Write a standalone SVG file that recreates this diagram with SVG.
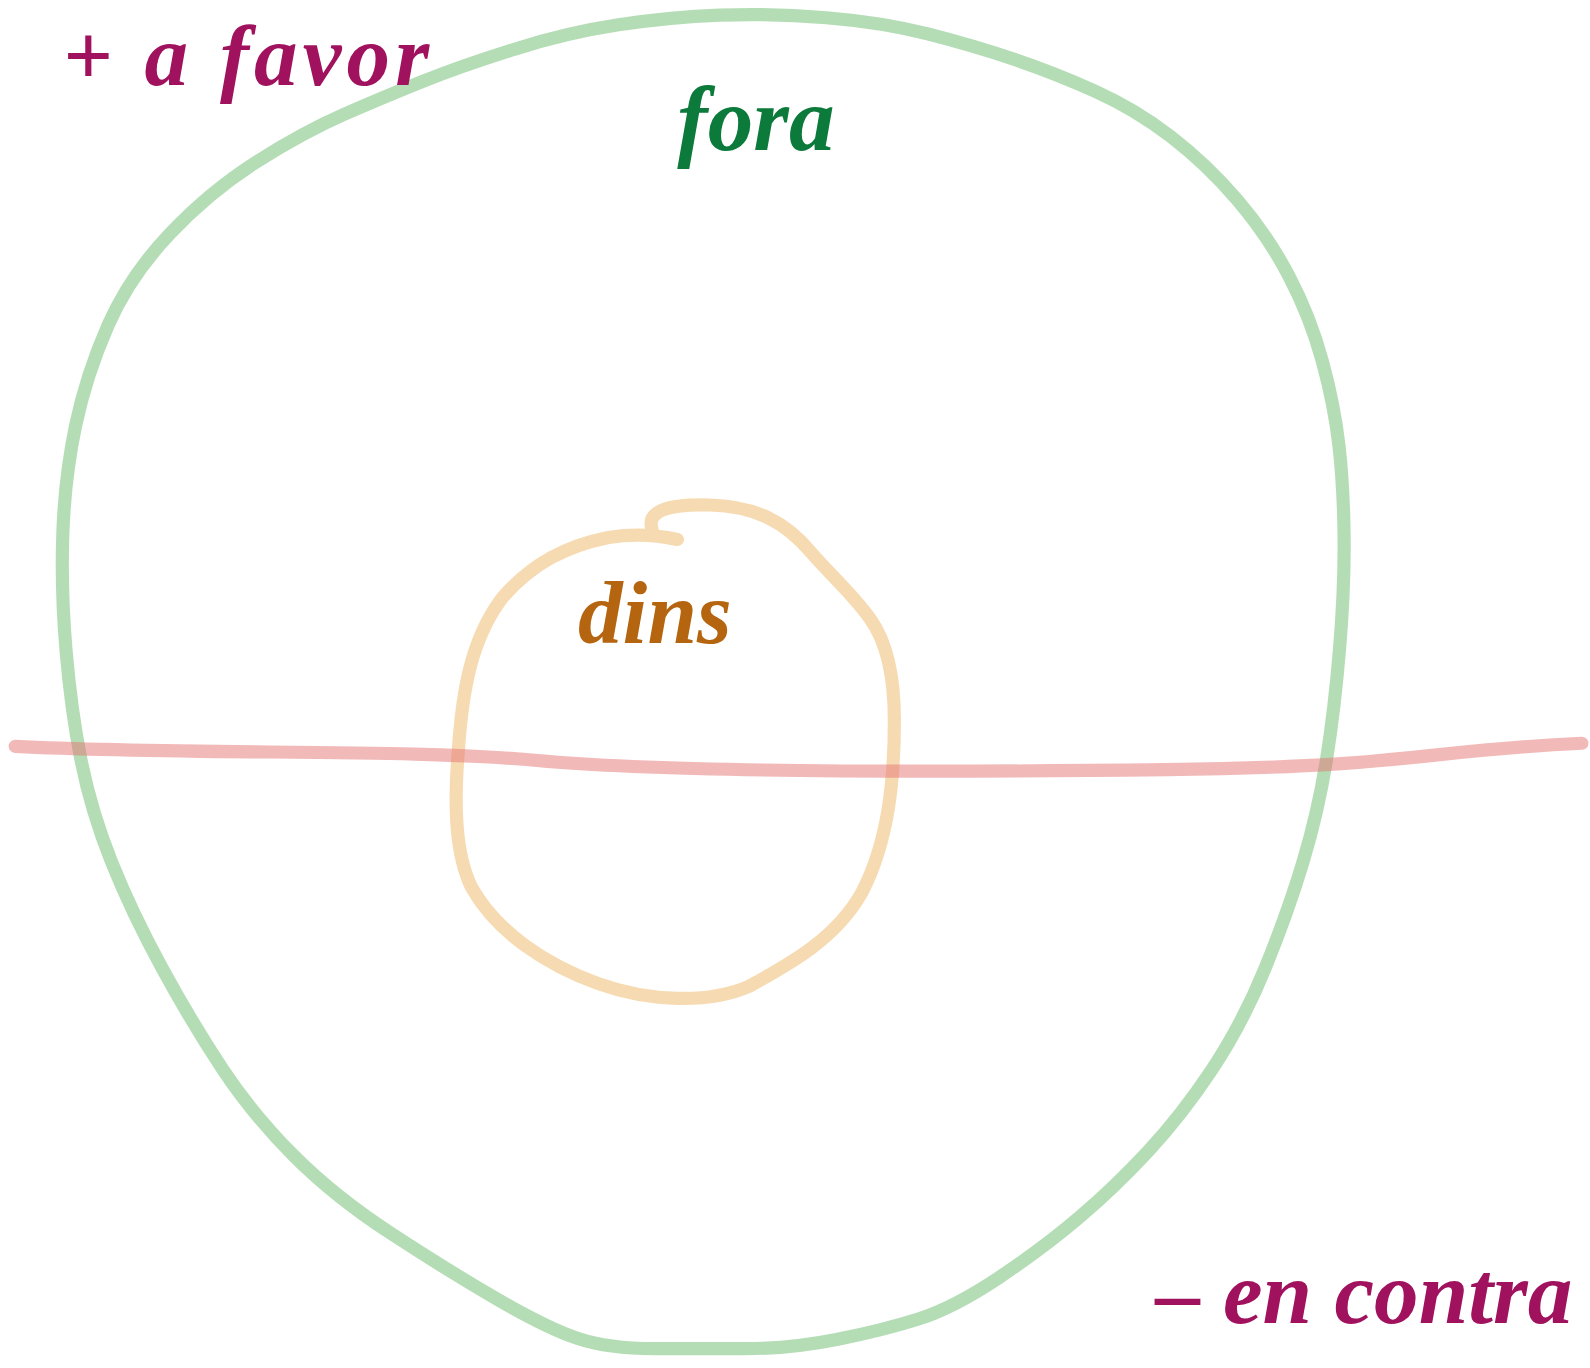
<svg xmlns="http://www.w3.org/2000/svg" width="1590" height="1368" viewBox="0 0 1590 1368">
<style>
.stroke{fill:none;stroke-linecap:round;stroke-linejoin:round;stroke-width:13}
.lbl{font-family:"Liberation Serif","DejaVu Serif",serif;font-style:italic;font-weight:bold}
</style>
<rect width="1590" height="1368" fill="#ffffff"/>
<g transform="scale(1.01403)">
<g id="fora">
<path class="stroke" stroke="#4caf50" stroke-opacity="0.42" d="M710,15 Q760,13 815,17.5 Q870,22 915,33.5 Q960,45 1000,58.5 Q1040,72 1080,90 Q1120,108 1155,135 Q1190,162 1220,197 Q1250,232 1271,272 Q1292,312 1304,356 Q1316,400 1320.5,440 Q1325,480 1325.5,530 Q1326,580 1321,640 Q1316,700 1308,750 Q1300,800 1285,850 Q1270,900 1247.5,955 Q1225,1010 1195,1055 Q1165,1100 1132.5,1135 Q1100,1170 1065,1200 Q1030,1230 985,1260 Q940,1290 905,1301 Q870,1312 825,1321 Q780,1330 735,1330 Q690,1330 645,1330 Q600,1330 570,1320 Q540,1310 490,1281 Q440,1252 385,1216 Q330,1180 290,1140 Q250,1100 220,1055 Q190,1010 160,955 Q130,900 110,850 Q90,800 80,750 Q70,700 65,640 Q60,580 62,525 Q64,470 74.5,420 Q85,370 106.5,321 Q128,272 168,230 Q208,188 254,159 Q300,130 340,112.5 Q380,95 417.5,80 Q455,65 507.5,48.5 Q560,32 610,24.5 Q660,17 710,15 Z"/>
<text class="lbl" x="668" y="148" font-size="90" fill="#0b7a3b">fora</text>
</g>
<g id="dins">
<path class="stroke" stroke="#e8a33d" stroke-opacity="0.4" d="M643,522 C638,505 655,497 700,498 C745,499 775,515 800,545 C820,568 840,585 858,610 C876,635 882,670 882,710 C882,770 876,830 850,880 C825,925 780,950 740,972 C700,990 640,988 590,970 C540,952 490,920 465,875 C448,840 448,790 452,740 C456,680 465,630 495,590 C525,555 560,538 600,530 C625,526 650,528 668,532"/>
<text class="lbl" x="570" y="634" font-size="88" fill="#b5650f">dins</text>
</g>
<g id="connectors">
<path class="stroke" stroke="#e57373" stroke-opacity="0.5" d="M15,736 C200,745 400,738 530,750 S900,762 1150,759 S1400,740 1560,733"/>
</g>
<g id="a-favor">
<text class="lbl" x="62" y="84" font-size="86" letter-spacing="5" fill="#a0125e">+ a favor</text>
</g>
<g id="en-contra">
<text class="lbl" x="1140" y="1305" font-size="88" fill="#a0125e">– en contra</text>
</g>
</g>
</svg>
